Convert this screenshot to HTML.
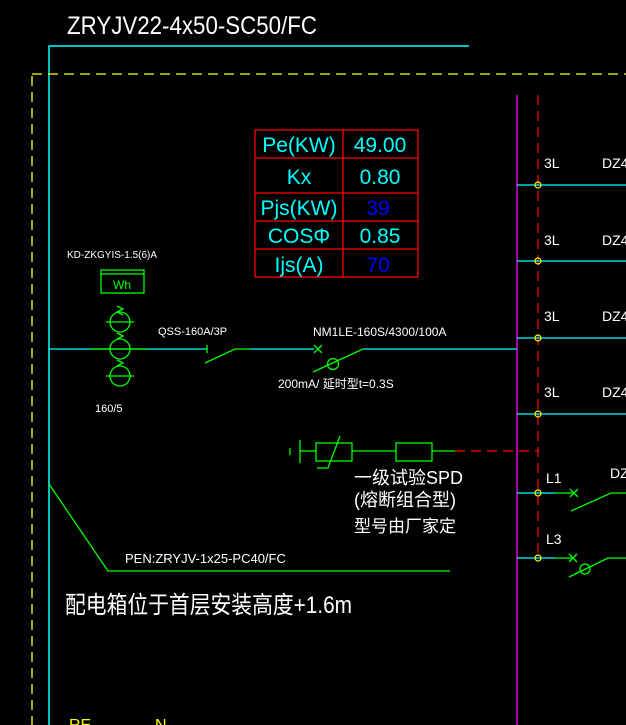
<!DOCTYPE html>
<html><head><meta charset="utf-8"><style>
html,body{margin:0;padding:0;background:#000;}
svg{display:block;}
text{font-family:"Liberation Sans","Noto Sans CJK SC",sans-serif;}
</style></head><body>
<svg width="626" height="725" viewBox="0 0 626 725" xmlns="http://www.w3.org/2000/svg">
<rect width="626" height="725" fill="#000"/>
<!-- title -->
<text x="67" y="34" fill="#fff" font-size="25" textLength="250" lengthAdjust="spacingAndGlyphs">ZRYJV22-4x50-SC50/FC</text>
<!-- frames -->
<polyline points="469,46 49,46 49,725" fill="none" stroke="#00ffff" stroke-width="1.5"/>
<line x1="32" y1="74" x2="626" y2="74" stroke="#ffff00" stroke-width="1.3" stroke-dasharray="10,6"/>
<line x1="32" y1="76" x2="32" y2="725" stroke="#ffff00" stroke-width="1.3" stroke-dasharray="10,6"/>
<line x1="517" y1="95" x2="517" y2="725" stroke="#ff00ff" stroke-width="1.3"/>
<line x1="538" y1="95" x2="538" y2="558" stroke="#ff0000" stroke-width="1.3" stroke-dasharray="10,6"/>
<!-- right rows -->
<g stroke="#00ffff" stroke-width="1.3">
<line x1="517" y1="185" x2="626" y2="185"/>
<line x1="517" y1="261" x2="626" y2="261"/>
<line x1="517" y1="338" x2="626" y2="338"/>
<line x1="517" y1="414" x2="626" y2="414"/>
<line x1="517" y1="493" x2="555" y2="493"/>
<line x1="517" y1="558" x2="555" y2="558"/>
</g>
<g fill="none" stroke="#ffff00" stroke-width="1.2">
<circle cx="538" cy="185" r="3"/><circle cx="538" cy="261" r="3"/><circle cx="538" cy="338" r="3"/><circle cx="538" cy="414" r="3"/><circle cx="538" cy="493" r="3"/><circle cx="538" cy="558" r="3"/>
</g>
<g fill="#fff" font-size="14">
<text x="544" y="168">3L</text><text x="602" y="168">DZ4</text>
<text x="544" y="245">3L</text><text x="602" y="245">DZ4</text>
<text x="544" y="321">3L</text><text x="602" y="321">DZ4</text>
<text x="544" y="397">3L</text><text x="602" y="397">DZ4</text>
<text x="546" y="483">L1</text><text x="610" y="478">DZ</text>
<text x="546" y="544">L3</text>
</g>
<g stroke="#00ff00" stroke-width="1.3" fill="none">
<line x1="555" y1="493" x2="574" y2="493"/>
<path d="M570,489 l8,8 M578,489 l-8,8"/>
<polyline points="571,511 611,493 626,493"/>
<line x1="555" y1="558" x2="572" y2="558"/>
<path d="M569,554 l8,8 M577,554 l-8,8"/>
<polyline points="569,577 608,558 626,558"/>
<circle cx="585" cy="569" r="5"/>
</g>
<!-- table -->
<g stroke="#ff0000" stroke-width="1.3" fill="none">
<rect x="255" y="130" width="163" height="147"/>
<line x1="343" y1="130" x2="343" y2="277"/>
<line x1="255" y1="158" x2="418" y2="158"/>
<line x1="255" y1="193" x2="418" y2="193"/>
<line x1="255" y1="221" x2="418" y2="221"/>
<line x1="255" y1="249" x2="418" y2="249"/>
</g>
<g fill="#00ffff" font-size="21" text-anchor="middle">
<text x="299" y="152">Pe(KW)</text><text x="380" y="152">49.00</text>
<text x="299" y="184">Kx</text><text x="380" y="184">0.80</text>
<text x="299" y="215">Pjs(KW)</text><text x="378" y="215" fill="#0000ff">39</text>
<text x="299" y="243">COSΦ</text><text x="380" y="243">0.85</text>
<text x="299" y="272">Ijs(A)</text><text x="378" y="272" fill="#0000ff">70</text>
</g>
<!-- meter & CTs -->
<text x="67" y="258" fill="#fff" font-size="10">KD-ZKGYIS-1.5(6)A</text>
<rect x="101" y="270" width="43" height="23" fill="none" stroke="#00ff00" stroke-width="1.3"/>
<line x1="101" y1="274" x2="144" y2="274" stroke="#00ff00" stroke-width="1.3"/>
<text x="122" y="289" fill="#00ff00" font-size="12" text-anchor="middle">Wh</text>
<line x1="49" y1="349" x2="207" y2="349" stroke="#00ffff" stroke-width="1.3"/>
<g stroke="#00ff00" stroke-width="1.3" fill="none">
<circle cx="120" cy="322" r="10"/><circle cx="120" cy="349" r="10"/><circle cx="120" cy="376" r="10"/>
<line x1="106" y1="322" x2="134" y2="322"/><line x1="106" y1="376" x2="134" y2="376"/>
<line x1="90" y1="349" x2="148" y2="349"/>
<path d="M117,306 l6,3 l-6,3 l6,3 M117,333 l6,3 l-6,3 M117,360 l6,3 l-6,3"/>
<line x1="207" y1="345" x2="207" y2="353"/>
<polyline points="205,363 235,349 250,349"/>
<path d="M314,345 l8,8 M322,345 l-8,8"/>
<polyline points="313,372 363,349"/>
<circle cx="333" cy="364" r="5.5"/>
</g>
<line x1="250" y1="349" x2="314" y2="349" stroke="#00ffff" stroke-width="1.3"/>
<line x1="363" y1="349" x2="517" y2="349" stroke="#00ffff" stroke-width="1.3"/>
<text x="95" y="412" fill="#fff" font-size="11">160/5</text>
<text x="158" y="335" fill="#fff" font-size="11">QSS-160A/3P</text>
<text x="313" y="336" fill="#fff" font-size="12">NM1LE-160S/4300/100A</text>
<text x="278" y="388" fill="#fff" font-size="12">200mA/ 延时型t=0.3S</text>
<!-- SPD -->
<g stroke="#00ff00" stroke-width="1.3" fill="none">
<line x1="290" y1="448" x2="290" y2="455"/>
<line x1="300" y1="440" x2="300" y2="463"/>
<line x1="300" y1="451" x2="316" y2="451"/>
<rect x="316" y="443" width="36" height="18"/>
<polyline points="317,468 328,468 340,436"/>
<line x1="352" y1="451" x2="396" y2="451"/>
<rect x="396" y="443" width="36" height="18"/>
<line x1="432" y1="451" x2="455" y2="451"/>
</g>
<line x1="455" y1="451" x2="538" y2="451" stroke="#ff0000" stroke-width="1.3" stroke-dasharray="10,6"/>
<g fill="#fff" font-size="18">
<text x="354" y="484">一级试验SPD</text>
<text x="354" y="506">(熔断组合型)</text>
<text x="354" y="532" font-size="17">型号由厂家定</text>
</g>
<!-- PEN -->
<polyline points="49,484 108,571 450,571" fill="none" stroke="#00ff00" stroke-width="1.3"/>
<text x="125" y="563" fill="#fff" font-size="13">PEN:ZRYJV-1x25-PC40/FC</text>
<text x="65" y="613" fill="#fff" font-size="24" textLength="287" lengthAdjust="spacingAndGlyphs">配电箱位于首层安装高度+1.6m</text>
<text x="69" y="730" fill="#ffff00" font-size="16">RE</text>
<text x="155" y="730" fill="#ffff00" font-size="16">N</text>
</svg>
</body></html>
